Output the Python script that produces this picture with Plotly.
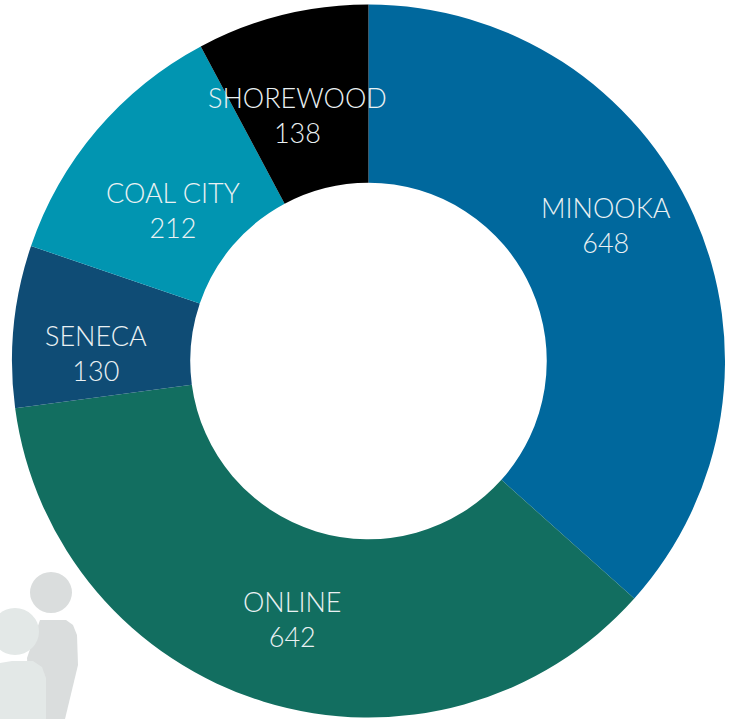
import plotly.graph_objects as go

W, H = 734, 719

labels = ["MINOOKA", "ONLINE", "SENECA", "COAL CITY", "SHOREWOOD"]
values = [648, 642, 130, 212, 138]
colors = ["#00689d", "#126e60", "#0f4c75", "#0195b1", "#000000"]
# label centres in pixels of the picture
label_px = [(606, 225), (292, 619), (96, 353), (173, 210), (297, 115)]


def px(x):
    return x / W


def py(y):
    return 1 - y / H


def path(points):
    return "M " + " L ".join(f"{px(x):.5f},{py(y):.5f}" for x, y in points) + " Z"


fig = go.Figure(go.Pie(
    labels=labels, values=values, hole=0.5, sort=False, direction="clockwise",
    rotation=0, marker=dict(colors=colors, line=dict(color="white", width=0)),
    textinfo="none", hoverinfo="label+value",
    domain=dict(x=[px(12), px(725)], y=[py(718), py(4)]), showlegend=False,
))

annotations = [
    dict(x=px(x), y=py(y), xref="paper", yref="paper", showarrow=False,
         xanchor="center", yanchor="middle", align="center",
         text=f"{l}<br>{v}",
         font=dict(family="Lato", size=27, color="#eaf1f3", weight=300))
    for (x, y), l, v in zip(label_px, labels, values)
]

# decorative silhouette in the lower-left corner
shapes = [
    dict(type="path", xref="paper", yref="paper", layer="below", line_width=0,
         fillcolor="#dadddd",
         path=path([(40, 620), (66, 620), (73, 625), (77, 635), (78, 665),
                    (72, 690), (65, 719), (30, 719), (27, 658)])),
    dict(type="circle", xref="paper", yref="paper", layer="below", line_width=0,
         fillcolor="#dadddd", x0=px(30), x1=px(72), y0=py(613), y1=py(572)),
    dict(type="circle", xref="paper", yref="paper", layer="below", line_width=0,
         fillcolor="#e3e8e7", x0=px(-9), x1=px(39), y0=py(655), y1=py(608)),
    dict(type="path", xref="paper", yref="paper", layer="below", line_width=0,
         fillcolor="#e3e8e7",
         path=path([(0, 663), (12, 661), (33, 661), (42, 667), (46, 678),
                    (46, 719), (0, 719)])),
]

fig.update_layout(
    width=W, height=H, margin=dict(l=0, r=0, t=0, b=0),
    paper_bgcolor="white", annotations=annotations, shapes=shapes,
)
fig.write_html("out.html", config=dict(displayModeBar=False),
               post_script="document.body.style.margin='0';")
